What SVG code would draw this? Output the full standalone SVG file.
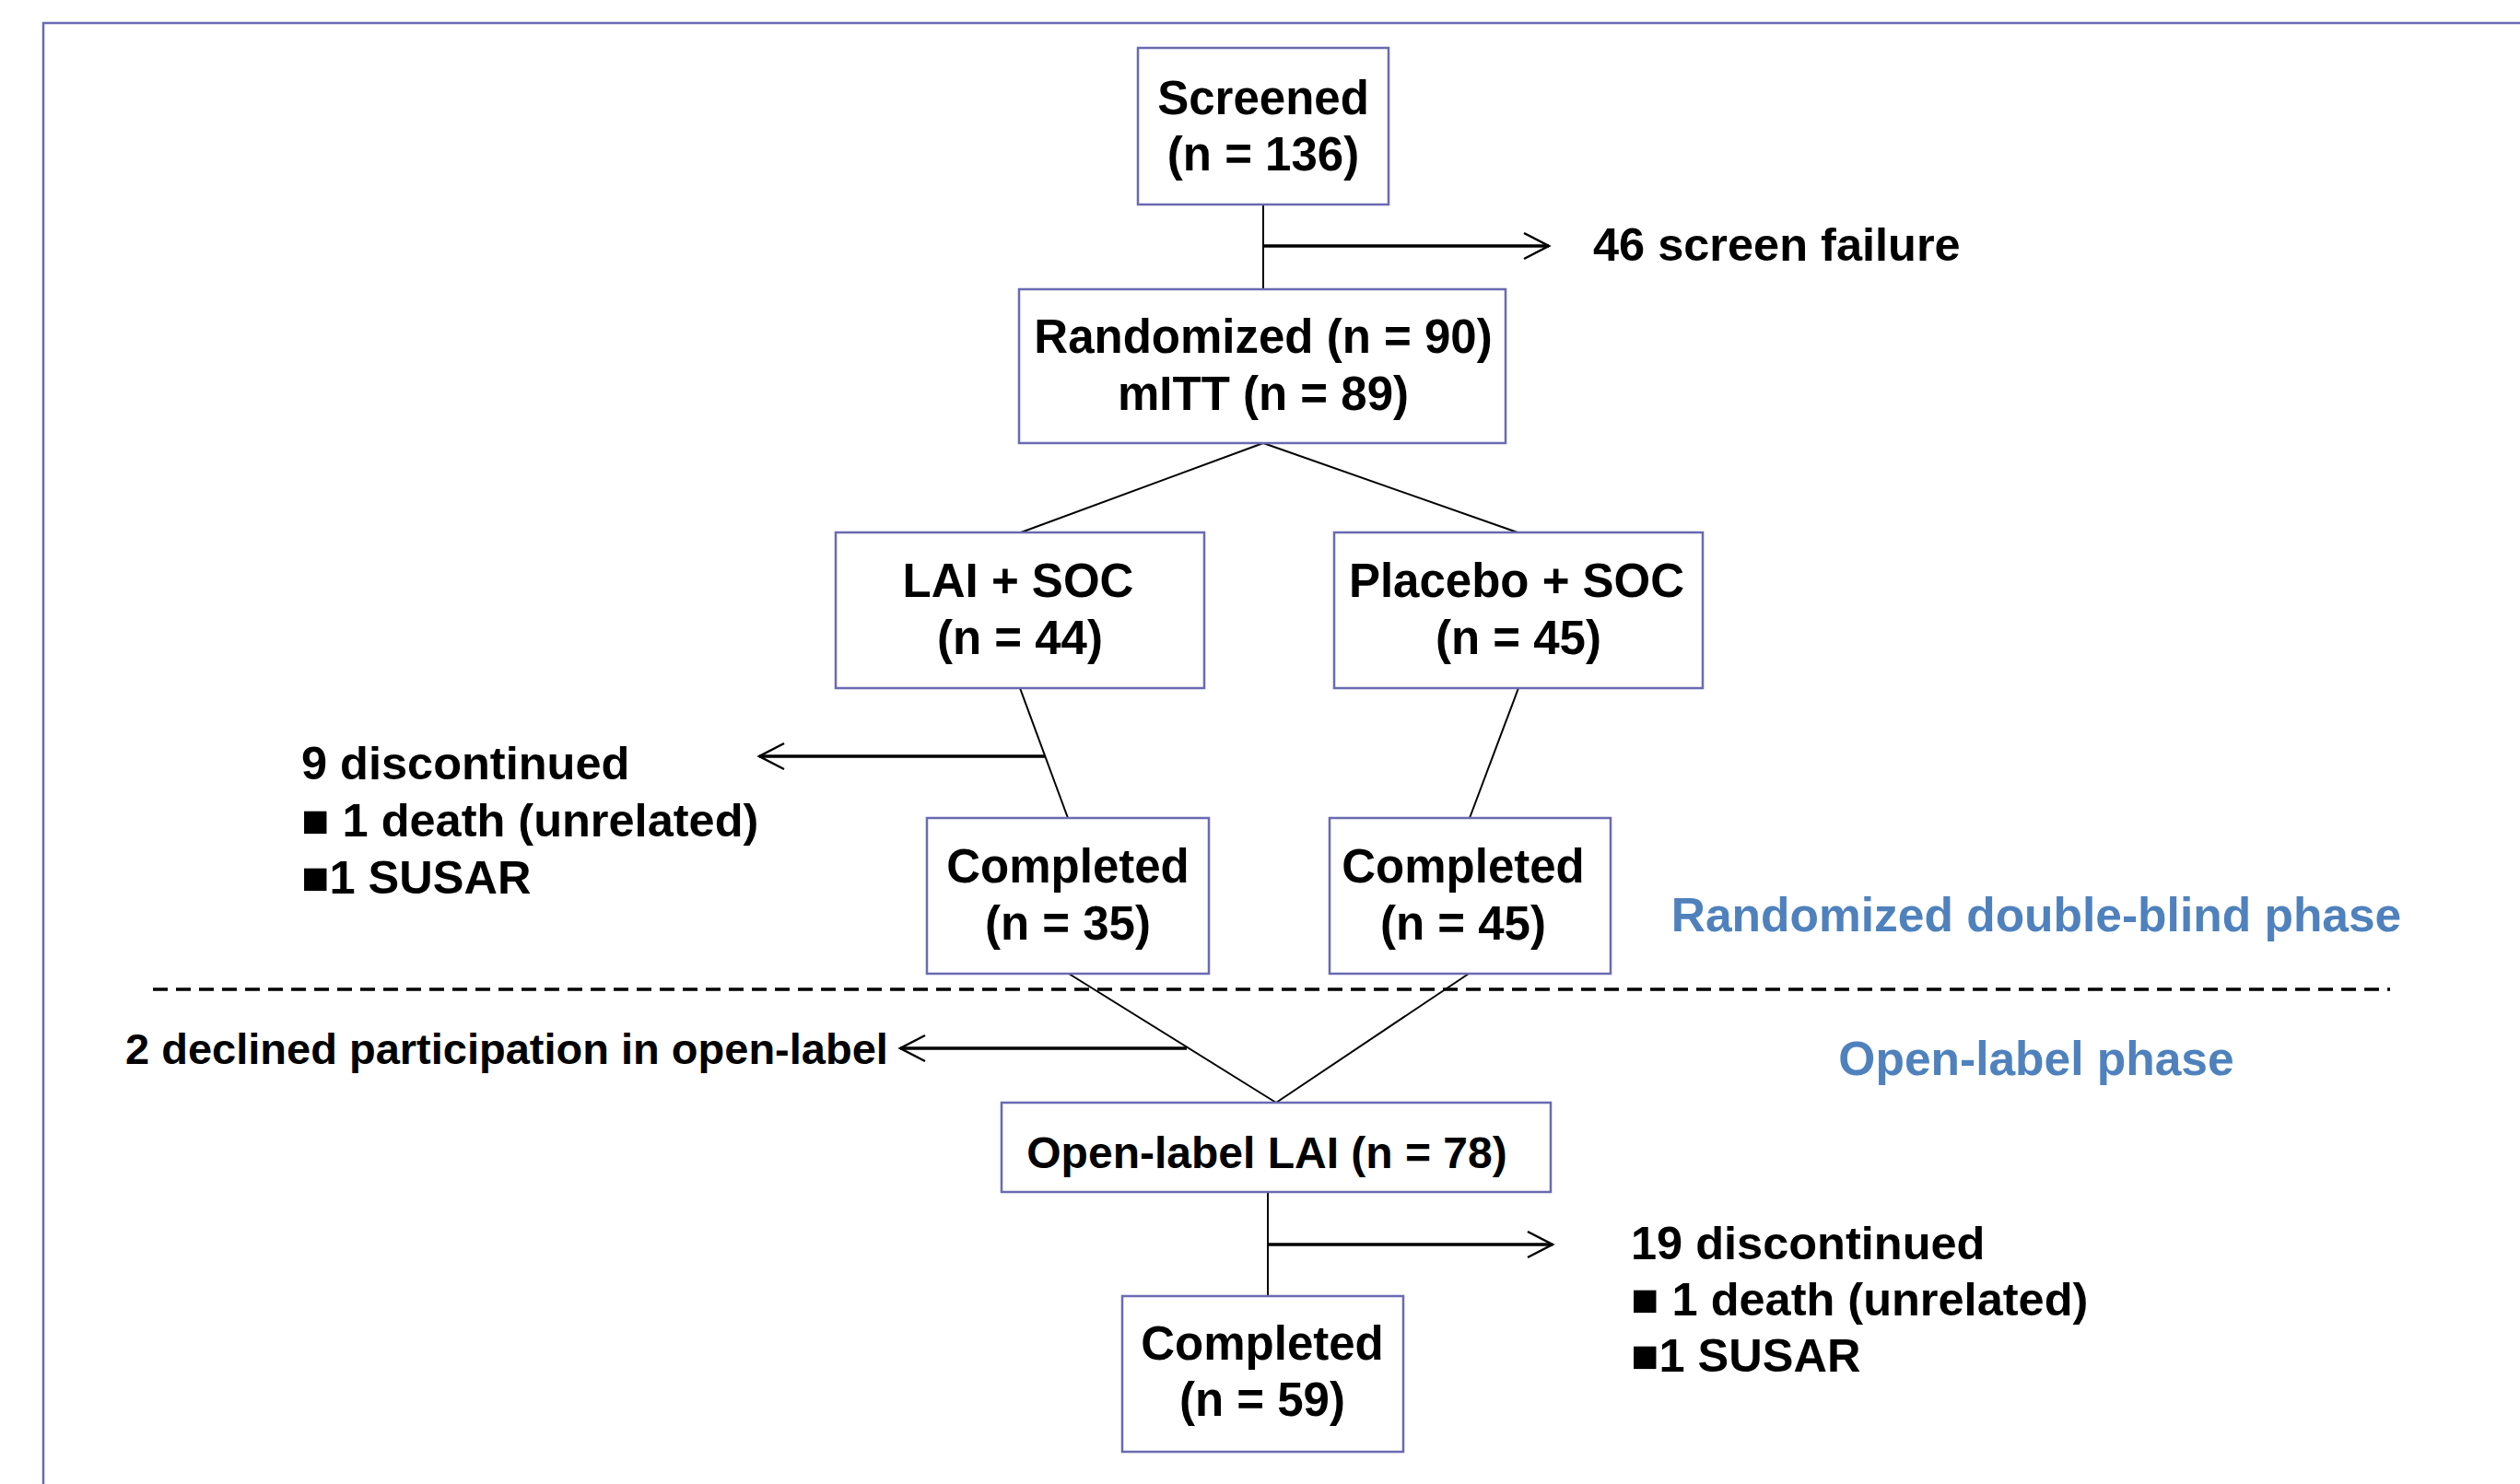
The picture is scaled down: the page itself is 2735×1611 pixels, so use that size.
<svg xmlns="http://www.w3.org/2000/svg" width="2735" height="1611" viewBox="0 0 2735 1611">
<style>
.box{fill:#fff;stroke:#6A6AB2;stroke-width:2.5}
.t{font-family:"Liberation Sans",Arial,sans-serif;font-weight:bold;font-size:51px;fill:#000}
.c{text-anchor:middle}
.lbl{font-size:50.5px}
.ph{fill:#4F81BD;font-size:51.5px}
.ln{stroke:#000;stroke-width:2;fill:none}
.ar{stroke:#000;stroke-width:3.5;fill:none;marker-end:url(#ah)}
</style>
<defs>
<marker id="ah" markerUnits="userSpaceOnUse" viewBox="-30 -16 32 32" refX="0" refY="0" markerWidth="32" markerHeight="32" orient="auto" overflow="visible">
<path d="M-27,-14 L0,0 L-27,14" fill="none" stroke="#000" stroke-width="2.5"/>
</marker>
</defs>
<rect width="2735" height="1611" fill="#fff"/>
<rect id="frame" x="47" y="25" width="2800" height="1700" fill="none" stroke="#6A6AB2" stroke-width="2.5"/>
<line x1="166" y1="1074" x2="2594" y2="1074" stroke="#000" stroke-width="3.5" stroke-dasharray="16 9"/>
<g id="connectors">
<line class="ln" x1="1371" y1="222" x2="1371" y2="314"/>
<line class="ar" x1="1371" y1="267" x2="1681" y2="267"/>
<line class="ln" x1="1371" y1="481" x2="1108" y2="578"/>
<line class="ln" x1="1371" y1="481" x2="1647" y2="578"/>
<line class="ln" x1="1107" y1="747" x2="1159" y2="888"/>
<line class="ar" x1="1134" y1="821" x2="824" y2="821"/>
<line class="ln" x1="1648" y1="747" x2="1595" y2="888"/>
<line class="ln" x1="1160" y1="1057" x2="1385" y2="1197"/>
<line class="ln" x1="1594" y1="1057" x2="1385" y2="1197"/>
<line class="ar" x1="1288" y1="1138" x2="977" y2="1138"/>
<line class="ln" x1="1376" y1="1294" x2="1376" y2="1407"/>
<line class="ar" x1="1376" y1="1351" x2="1685" y2="1351"/>
</g>
<g id="screened">
<rect class="box" x="1235" y="52" width="272" height="170"/>
<text class="t c" x="1371" y="124">Screened</text>
<text class="t c" x="1371" y="185">(n = 136)</text>
</g>
<g id="screen-failure">
<text class="t lbl" x="1729" y="283">46 screen failure</text>
</g>
<g id="randomized">
<rect class="box" x="1106" y="314" width="528" height="167"/>
<text class="t c" x="1371" y="383">Randomized (n = 90)</text>
<text class="t c" x="1371" y="445">mITT (n = 89)</text>
</g>
<g id="lai">
<rect class="box" x="907" y="578" width="400" height="169"/>
<text class="t c" x="1105" y="648">LAI + SOC</text>
<text class="t c" x="1107" y="710">(n = 44)</text>
</g>
<g id="placebo">
<rect class="box" x="1448" y="578" width="400" height="169"/>
<text class="t c" x="1646" y="648">Placebo + SOC</text>
<text class="t c" x="1648" y="710">(n = 45)</text>
</g>
<g id="discontinued-1">
<text class="t lbl" x="327" y="846">9 discontinued</text>
<text class="t lbl" x="327" y="908">■ 1 death (unrelated)</text>
<text class="t lbl" x="327" y="970">■1 SUSAR</text>
</g>
<g id="completed-lai">
<rect class="box" x="1006" y="888" width="306" height="169"/>
<text class="t c" x="1159" y="958">Completed</text>
<text class="t c" x="1159" y="1020">(n = 35)</text>
</g>
<g id="completed-placebo">
<rect class="box" x="1443" y="888" width="305" height="169"/>
<text class="t c" x="1588" y="958">Completed</text>
<text class="t c" x="1588" y="1020">(n = 45)</text>
</g>
<g id="phase-labels">
<text class="t ph c" x="2210" y="1011">Randomized double-blind phase</text>
<text class="t ph c" x="2210" y="1167">Open-label phase</text>
</g>
<g id="declined">
<text class="t" x="136" y="1155" style="font-size:47px">2 declined participation in open-label</text>
</g>
<g id="open-label">
<rect class="box" x="1087" y="1197" width="596" height="97"/>
<text class="t c" x="1375" y="1268" style="font-size:48px">Open-label LAI (n = 78)</text>
</g>
<g id="discontinued-2">
<text class="t lbl" x="1770" y="1367">19 discontinued</text>
<text class="t lbl" x="1770" y="1428">■ 1 death (unrelated)</text>
<text class="t lbl" x="1770" y="1489">■1 SUSAR</text>
</g>
<g id="completed-final">
<rect class="box" x="1218" y="1407" width="305" height="169"/>
<text class="t c" x="1370" y="1476">Completed</text>
<text class="t c" x="1370" y="1537">(n = 59)</text>
</g>
</svg>
